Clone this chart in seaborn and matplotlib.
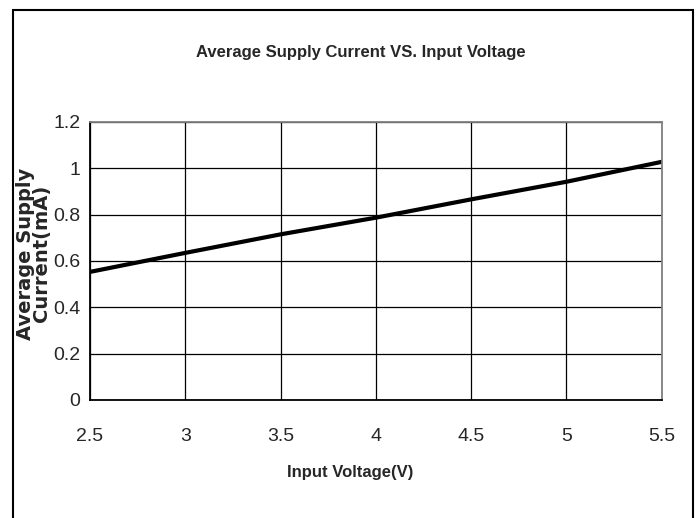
import numpy as np
import pandas as pd
import matplotlib
matplotlib.use("Agg")
import matplotlib.pyplot as plt
import seaborn as sns
from matplotlib.patches import Rectangle

# data
voltage = [2.5, 3.0, 3.5, 4.0, 4.5, 5.0, 5.5]
current = [0.553, 0.635, 0.715, 0.787, 0.866, 0.942, 1.028]
x_ticks = [2.5, 3, 3.5, 4, 4.5, 5, 5.5]
y_ticks = [0, 0.2, 0.4, 0.6, 0.8, 1, 1.2]

df = pd.DataFrame({"Voltage": voltage, "Current": current})

sns.set_style("white")
narrow = ["Liberation Sans Narrow", "Liberation Sans", "DejaVu Sans"]
plt.rcParams["font.family"] = narrow

fig = plt.figure(figsize=(7, 5.18), dpi=100)
ax = fig.add_axes([0.1286, 0.2278, 0.8167, 0.5367])

sns.lineplot(data=df, x="Voltage", y="Current", color="black", linewidth=3, ax=ax)

ax.set_xlim(2.5, 5.5)
ax.set_ylim(0, 1.2)
ax.set_xticks(x_ticks)
ax.set_xticklabels(["2.5", "3", "3.5", "4", "4.5", "5", "5.5"])
ax.set_yticks(y_ticks)
ax.set_yticklabels(["0", "0.2", "0.4", "0.6", "0.8", "1", "1.2"])
ax.grid(True, color="black", linewidth=0.9)
ax.set_axisbelow(True)
ax.tick_params(axis="x", length=0, pad=20, labelsize=14)
ax.tick_params(axis="y", length=0, pad=7, labelsize=14)

for s in ["left", "bottom"]:
    ax.spines[s].set_color("black")
    ax.spines[s].set_linewidth(1.3)
for s in ["top", "right"]:
    ax.spines[s].set_color("#808080")
    ax.spines[s].set_linewidth(1.3)

ax.set_xlabel("")
ax.set_ylabel("")

fig.text(0.516, 0.898, "Average Supply Current VS. Input Voltage",
         ha="center", va="center", fontsize=12, fontweight="bold", family=narrow)
fig.text(0.5, 0.087, "Input Voltage(V)", ha="center", va="center",
         fontsize=12, fontweight="bold", family=narrow)
fig.text(0.048, 0.51, "Average Supply\nCurrent(mA)", ha="center", va="center",
         rotation=90, fontsize=14, fontweight="bold", linespacing=0.85,
         family=["DejaVu Sans"])

# outer frame
fig.patches.append(Rectangle((0.0186, -0.01), 0.9714, 0.9907, transform=fig.transFigure,
                             fill=False, edgecolor="black", linewidth=1.5))

fig.savefig("out.png", dpi=100)
